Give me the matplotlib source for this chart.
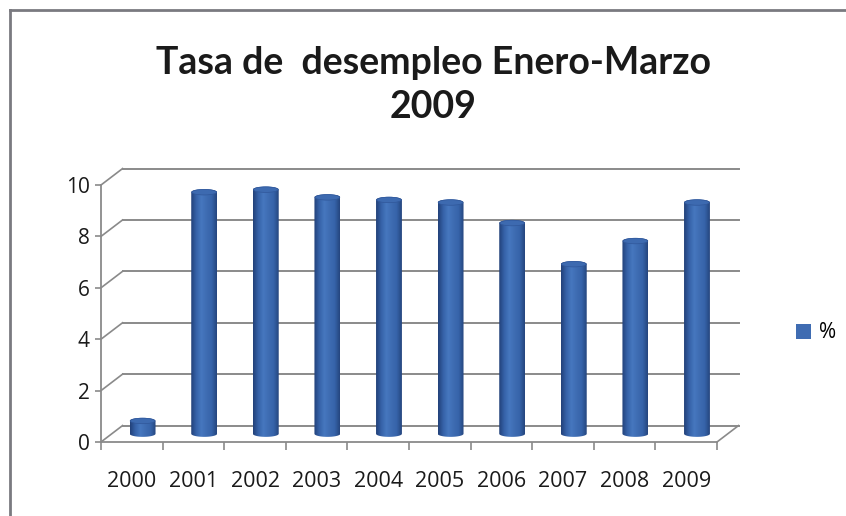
import numpy as np
import matplotlib
matplotlib.use("Agg")
from matplotlib import pyplot as plt
from matplotlib.patches import Polygon, Ellipse, Patch
from matplotlib.lines import Line2D
from matplotlib.colors import LinearSegmentedColormap

years = ['2000', '2001', '2002', '2003', '2004', '2005', '2006', '2007', '2008', '2009']
rate = [0.5, 9.4, 9.5, 9.2, 9.1, 9.0, 8.2, 6.6, 7.5, 9.0]
yticks = [0, 2, 4, 6, 8, 10]
title = 'Tasa de  desempleo Enero-Marzo\n2009'
legend_label = '%'

# fake 3d depth (data units)
DX, DY = 0.35, 0.64
BAR_W = 0.42
ELL_H = 0.24
GRID = '#8a8a8a'

W, H = 846, 516
fig = plt.figure(figsize=(W / 100, H / 100), dpi=100)
ax = fig.add_axes([101 / W, (H - 442) / H, (717 - 101) / W, (442 - 185) / H])
ax.set_xlim(-0.5, 9.5)
ax.set_ylim(0, 10)

# back wall gridlines + left side wall
for v in yticks:
    ax.plot([-0.5 + DX, 9.5 + DX], [v + DY, v + DY], color=GRID, lw=1.4,
            clip_on=False, zorder=1)
    ax.plot([-0.5, -0.5 + DX], [v, v + DY], color=GRID, lw=1.2,
            clip_on=False, zorder=1)
# floor right edge
ax.plot([9.5, 9.5 + DX], [0, DY], color=GRID, lw=1.2, clip_on=False, zorder=1)

cmap = LinearSegmentedColormap.from_list(
    'cyl', ['#22417a', '#3662a8', '#4677bf', '#3e6cb2', '#3764aa', '#25467f'])
grad = np.linspace(0, 1, 64).reshape(1, -1)

t = np.linspace(0, np.pi, 40)
for i, v in enumerate(rate):
    cx = i + DX / 2
    base = DY / 2
    top = base + v
    hw = BAR_W / 2
    # bottom half ellipse (left->right), top half ellipse (right->left)
    bx = cx - hw * np.cos(t)
    by = base - ELL_H / 2 * np.sin(t)
    tx = cx + hw * np.cos(t)
    ty = top + ELL_H / 2 * np.sin(t)
    pts = np.column_stack([np.concatenate([bx, tx]), np.concatenate([by, ty])])
    body = Polygon(pts, closed=True, facecolor='none', edgecolor='none')
    ax.add_patch(body)
    im = ax.imshow(grad, cmap=cmap, aspect='auto', zorder=3,
                   extent=[cx - hw, cx + hw, base - ELL_H, top + ELL_H])
    im.set_clip_path(body)
    ax.add_patch(Ellipse((cx, top), BAR_W * 0.96, ELL_H * 0.9,
                         facecolor='#3d6ab0', edgecolor='#30579a', lw=0.5, zorder=4))

ax.set_xlim(-0.5, 9.5)
ax.set_ylim(0, 10)

# axes / ticks
for s in ['top', 'right']:
    ax.spines[s].set_visible(False)
for s in ['left', 'bottom']:
    ax.spines[s].set_color(GRID)
    ax.spines[s].set_linewidth(1.3)
ax.set_facecolor('none')

tick_font = 'Open Sans'
ax.set_xticks(range(len(years)), labels=years)
ax.set_xticks(np.arange(-0.5, len(years), 1), minor=True)
ax.tick_params(axis='x', which='major', length=0, pad=21, labelsize=15.5,
               labelcolor='#1a1a1a')
ax.tick_params(axis='x', which='minor', length=6, width=1.2, color=GRID)
ax.set_yticks(yticks)
ax.tick_params(axis='y', length=4, width=1.2, color=GRID, pad=4, labelsize=15,
               labelcolor='#1a1a1a')
for lab in ax.get_xticklabels() + ax.get_yticklabels():
    lab.set_fontfamily(tick_font)

fig.text(433 / W, 1 - 85 / H, title, ha='center', va='center',
         fontsize=27, fontweight='bold', family='Lato', color='#1a1a1a',
         linespacing=1.38)

fig.legend(handles=[Patch(facecolor='#3f6cb2', edgecolor='none', label=legend_label)],
           loc='center', bbox_to_anchor=(816 / W, 1 - 333 / H), frameon=False,
           handlelength=0.7, handleheight=0.7, handletextpad=0.4,
           prop={'family': tick_font, 'size': 15})

# chart frame (left and top edges visible)
fig.add_artist(Line2D([10 / W, 10 / W], [0, 1 - 10 / H], transform=fig.transFigure,
                      color='#7a7a80', lw=2))
fig.add_artist(Line2D([10 / W, 1], [1 - 10 / H, 1 - 10 / H], transform=fig.transFigure,
                      color='#7a7a80', lw=2))

fig.savefig('out.png', dpi=100)
